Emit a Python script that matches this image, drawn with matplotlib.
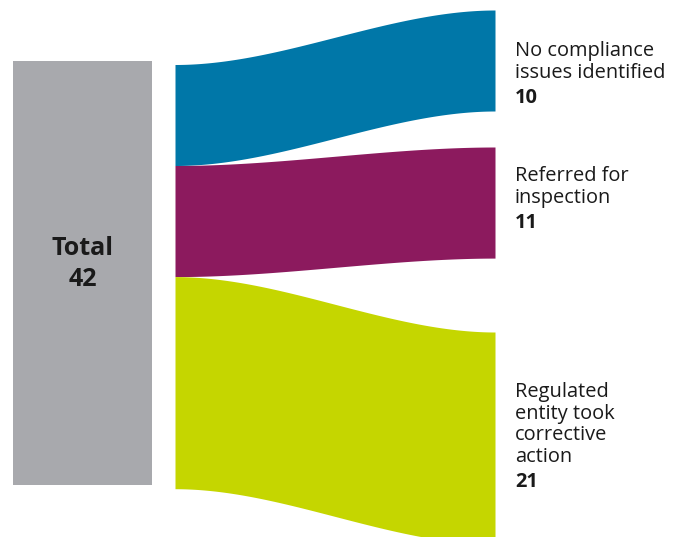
import numpy as np
import matplotlib
matplotlib.use("Agg")
import matplotlib.pyplot as plt

# ---- data ----
source_label = "Total"
categories = ["No compliance\nissues identified", "Referred for\ninspection",
              "Regulated\nentity took\ncorrective\naction"]
values = [10, 11, 21]
colors = ["#0077A8", "#8C1A5E", "#C5D600"]
node_color = "#A8A9AD"

# ---- layout (pixels) ----
W, H = 675, 537
scale = 10.1           # px per unit
box_x0, box_x1, box_top = 13, 152, 61
flow_x0, flow_x1 = 175, 495
left_top = 64.5
right_tops = [10, 147, 332]
label_x = 515
first_baselines = [56, 181, 397]
line_pitch = 21.6
FONT = "Open Sans"
TXT = "#1a1a1a"

fig = plt.figure(figsize=(W / 100, H / 100), dpi=100)
ax = fig.add_axes([0, 0, 1, 1])
ax.set_xlim(0, W)
ax.set_ylim(H, 0)
ax.axis("off")

total = sum(values)
ax.add_patch(plt.Rectangle((box_x0, box_top), box_x1 - box_x0, total * scale,
                           color=node_color, lw=0))
cx = (box_x0 + box_x1) / 2
ax.text(cx, 255, source_label, ha="center", va="baseline",
        fontsize=18, fontweight="bold", family=FONT, color=TXT)
ax.text(cx, 286, str(total), ha="center", va="baseline",
        fontsize=18, fontweight="bold", family=FONT, color=TXT)

x = np.linspace(flow_x0, flow_x1, 300)
u = (x - flow_x0) / (flow_x1 - flow_x0)
s = 3 * u ** 2 - 2 * u ** 3
y_left = left_top
for cat, v, c, rt, b0 in zip(categories, values, colors, right_tops, first_baselines):
    h = v * scale
    top = y_left + (rt - y_left) * s
    bot = top + h
    ax.fill_between(x, top, bot, color=c, lw=0)
    y_left += h
    lines = cat.split("\n")
    for i, ln in enumerate(lines):
        ax.text(label_x, b0 + i * line_pitch, ln, ha="left", va="baseline",
                fontsize=14.4, family=FONT, color=TXT)
    ax.text(label_x, b0 + len(lines) * line_pitch + 4, str(v), ha="left",
            va="baseline", fontsize=14.4, fontweight="bold", family=FONT, color=TXT)

fig.savefig("out.png", dpi=100)
